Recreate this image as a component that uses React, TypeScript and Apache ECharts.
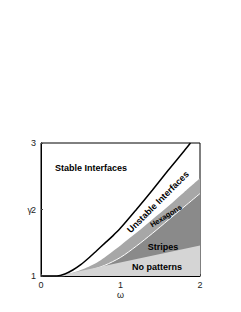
import React, { useEffect, useRef } from "react";
import * as echarts from "echarts";

// Boundary curves (omega -> gamma)
const unstableOmega = [0, 0.2, 0.3, 0.4, 0.5, 0.6, 0.7, 0.8, 0.9, 1.0, 1.2, 1.4, 1.6, 1.8, 1.88];
const unstableGamma = [1, 1.0, 1.03, 1.09, 1.17, 1.27, 1.38, 1.49, 1.6, 1.72, 2.0, 2.29, 2.59, 2.88, 3.0];

const hexTopOmega = [0, 0.2, 0.3, 0.4, 0.5, 0.6, 0.7, 0.8, 0.9, 1.0, 1.2, 1.4, 1.6, 1.8, 2.0];
const hexTopGamma = [1, 1.0, 1.02, 1.05, 1.09, 1.14, 1.2, 1.28, 1.37, 1.46, 1.65, 1.85, 2.05, 2.26, 2.47];

const stripeTopOmega = [0, 0.25, 0.4, 0.6, 0.8, 1.0, 1.2, 1.4, 1.6, 1.8, 2.0];
const stripeTopGamma = [1, 1.0, 1.03, 1.08, 1.16, 1.28, 1.45, 1.64, 1.84, 2.04, 2.24];

const noPatternOmega = [0, 0.2, 2.0];
const noPatternGamma = [1, 1.0, 1.46];

const xTicks = [0, 1, 2];
const yTicks = [1, 2, 3];

const pairs = (xs: number[], ys: number[]) => xs.map((x, i) => [x, ys[i]]);

export default function App() {
  const ref = useRef<HTMLDivElement>(null);
  useEffect(() => {
    if (!ref.current) return;
    const chart = echarts.init(ref.current, null, { renderer: "svg" });
    const font = "Liberation Sans, Arial, sans-serif";
    chart.setOption({
      animation: false,
      grid: {
        left: 41,
        right: 41,
        top: 143,
        bottom: 36,
        show: true,
        borderColor: "#000",
        borderWidth: 1,
        backgroundColor: "transparent",
      },
      xAxis: {
        type: "value",
        min: xTicks[0],
        max: xTicks[xTicks.length - 1],
        interval: 1,
        name: "ω",
        nameLocation: "middle",
        nameGap: 14,
        nameMoveOverlap: false,
        nameTextStyle: { fontSize: 9, color: "#222", fontFamily: font },
        axisLine: { show: true, lineStyle: { color: "#000", width: 1 } },
        axisTick: { show: true, inside: true, length: 2, lineStyle: { color: "#444" } },
        axisLabel: { fontSize: 9, color: "#222", margin: 4, fontFamily: font },
        splitLine: { show: false },
      },
      yAxis: {
        type: "value",
        min: yTicks[0],
        max: yTicks[yTicks.length - 1],
        interval: 1,
        name: "γ",
        nameLocation: "middle",
        nameRotate: 0,
        nameGap: 9,
        nameMoveOverlap: false,
        nameTextStyle: { fontSize: 9, color: "#222", fontFamily: font },
        axisLine: { show: true, lineStyle: { color: "#000", width: 1 } },
        axisTick: { show: true, inside: true, length: 2, lineStyle: { color: "#444" } },
        axisLabel: { fontSize: 9, color: "#222", margin: 5, fontFamily: font },
        splitLine: { show: false },
      },
      series: [
        {
          type: "line",
          data: pairs(hexTopOmega, hexTopGamma),
          showSymbol: false,
          smooth: 0.3,
          lineStyle: { width: 0 },
          areaStyle: { color: "#a7a7a7", opacity: 1, origin: "start" },
          z: 1,
        },
        {
          type: "line",
          data: pairs(stripeTopOmega, stripeTopGamma),
          showSymbol: false,
          smooth: 0.3,
          lineStyle: { width: 1, color: "#ffffff" },
          areaStyle: { color: "#8a8a8a", opacity: 1, origin: "start" },
          z: 2,
        },
        {
          type: "line",
          data: pairs(noPatternOmega, noPatternGamma),
          showSymbol: false,
          lineStyle: { width: 0 },
          areaStyle: { color: "#d5d5d5", opacity: 1, origin: "start" },
          z: 3,
        },
        {
          type: "line",
          data: pairs(unstableOmega, unstableGamma),
          showSymbol: false,
          smooth: 0.3,
          lineStyle: { width: 1.5, color: "#000" },
          z: 4,
        },
      ],
      graphic: [
        {
          type: "text",
          x: 91,
          y: 168,
          style: {
            text: "Stable Interfaces",
            font: `bold 9px ${font}`,
            fill: "#000",
            align: "center",
            verticalAlign: "middle",
          },
          z: 10,
        },
        {
          type: "text",
          x: 158,
          y: 202,
          rotation: (45 * Math.PI) / 180,
          style: {
            text: "Unstable Interfaces",
            font: `bold 9px ${font}`,
            fill: "#000",
            align: "center",
            verticalAlign: "middle",
          },
          z: 10,
        },
        {
          type: "text",
          x: 166,
          y: 216,
          rotation: (32 * Math.PI) / 180,
          style: {
            text: "Hexagons",
            font: `bold 7.5px ${font}`,
            fill: "#000",
            align: "center",
            verticalAlign: "middle",
          },
          z: 10,
        },
        {
          type: "text",
          x: 163,
          y: 247,
          style: {
            text: "Stripes",
            font: `bold 9px ${font}`,
            fill: "#000",
            align: "center",
            verticalAlign: "middle",
          },
          z: 10,
        },
        {
          type: "text",
          x: 157,
          y: 267,
          style: {
            text: "No patterns",
            font: `bold 9px ${font}`,
            fill: "#000",
            align: "center",
            verticalAlign: "middle",
          },
          z: 10,
        },
      ],
    });
    return () => chart.dispose();
  }, []);
  return (
    <div
      ref={ref}
      style={{ position: "fixed", left: 0, top: 0, width: 241, height: 312, background: "#fff" }}
    />
  );
}
